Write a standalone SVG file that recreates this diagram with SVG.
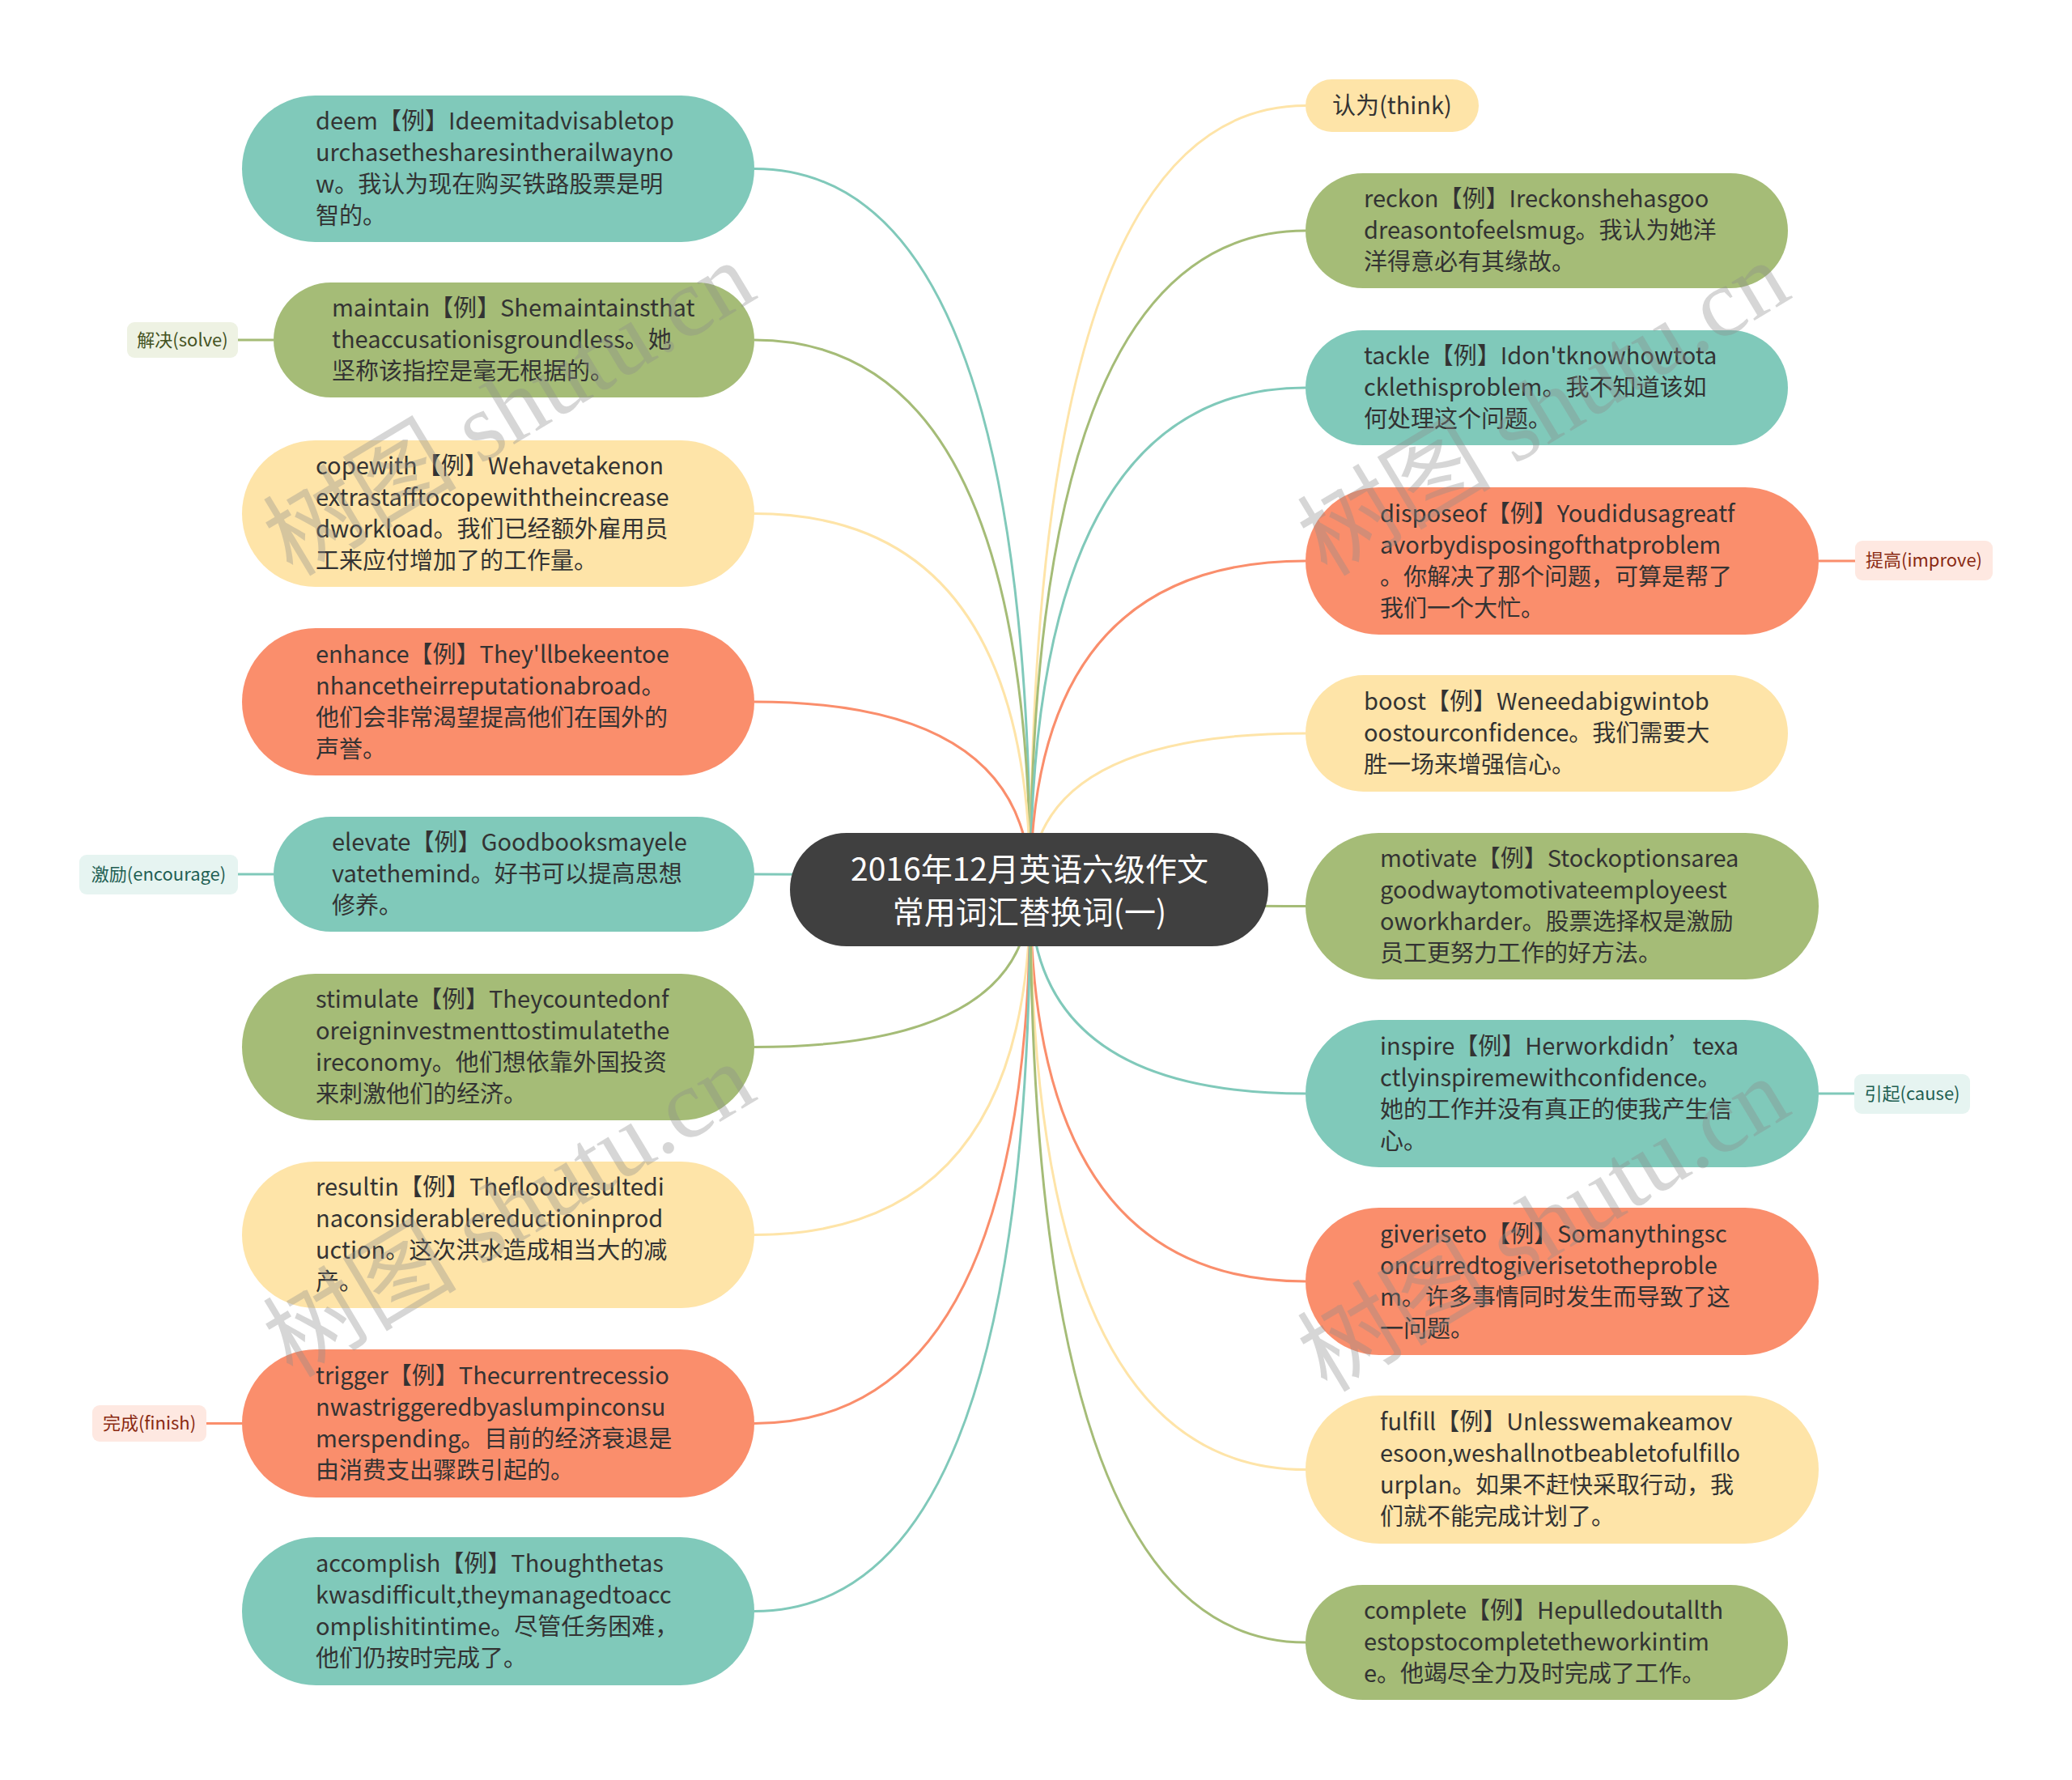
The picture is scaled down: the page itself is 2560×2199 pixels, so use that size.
<svg xmlns="http://www.w3.org/2000/svg" width="2560" height="2199" viewBox="0 0 2560 2199">
<style>
.t{font-family:"Noto Sans CJK SC","Noto Sans",sans-serif;font-size:29px;fill:#333333}
.ct{font-family:"Noto Sans CJK SC","Noto Sans",sans-serif;font-size:39px;fill:#ffffff;text-anchor:middle}
.lb{font-family:"Noto Sans CJK SC","Noto Sans",sans-serif;font-size:22px;text-anchor:middle}
.teal{fill:#80C9BA}.green{fill:#A5BC77}.yellow{fill:#FEE4A8}.orange{fill:#FA8E6C}
.c{fill:none;stroke-width:3}
.cteal{stroke:#80C9BA}.cgreen{stroke:#A5BC77}.cyellow{stroke:#FEE4A8}.corange{stroke:#FA8E6C}
.wm{font-family:"Liberation Serif","Noto Sans CJK SC",serif;font-size:120px;fill:#8c8c8c;opacity:0.35;text-anchor:middle}
</style>
<g id="connectors">
<path class="c cteal" d="M932 208.5 Q1273 208.5 1273 1099"/>
<path class="c cgreen" d="M932 420 Q1273 420 1273 1099"/>
<path class="c cyellow" d="M932 634.5 Q1273 634.5 1273 1099"/>
<path class="c corange" d="M932 867 Q1273 867 1273 1099"/>
<path class="c cteal" d="M932 1080 Q1273 1080 1273 1099"/>
<path class="c cgreen" d="M932 1293.5 Q1273 1293.5 1273 1099"/>
<path class="c cyellow" d="M932 1525.5 Q1273 1525.5 1273 1099"/>
<path class="c corange" d="M932 1758.5 Q1273 1758.5 1273 1099"/>
<path class="c cteal" d="M932 1990.5 Q1273 1990.5 1273 1099"/>
<path class="c cyellow" d="M1613 130.5 Q1273 130.5 1273 1099"/>
<path class="c cgreen" d="M1613 285 Q1273 285 1273 1099"/>
<path class="c cteal" d="M1613 479 Q1273 479 1273 1099"/>
<path class="c corange" d="M1613 693 Q1273 693 1273 1099"/>
<path class="c cyellow" d="M1613 906 Q1273 906 1273 1099"/>
<path class="c cgreen" d="M1613 1119.5 Q1273 1119.5 1273 1099"/>
<path class="c cteal" d="M1613 1351 Q1273 1351 1273 1099"/>
<path class="c corange" d="M1613 1583 Q1273 1583 1273 1099"/>
<path class="c cyellow" d="M1613 1815.5 Q1273 1815.5 1273 1099"/>
<path class="c cgreen" d="M1613 2029 Q1273 2029 1273 1099"/>
<path class="c cgreen" d="M294 420 L338 420"/>
<path class="c cteal" d="M294 1080 L338 1080"/>
<path class="c corange" d="M255 1758.5 L299 1758.5"/>
<path class="c corange" d="M2247 693 L2292 693"/>
<path class="c cteal" d="M2247 1351 L2291 1351"/>
</g>

<g id="center">
<rect x="976" y="1029" width="591" height="140" rx="70" fill="#404040"/>
<text class="ct"><tspan x="1272" y="1088">2016年12月英语六级作文</tspan><tspan x="1272" y="1141">常用词汇替换词(一)</tspan></text>
</g>

<g id="n-deem">
<rect class="teal" x="299" y="118" width="633" height="181" rx="90.5"/>
<text class="t"><tspan x="390" y="160">deem【例】Ideemitadvisabletop</tspan><tspan x="390" y="199">urchasethesharesintherailwayno</tspan><tspan x="390" y="238">w。我认为现在购买铁路股票是明</tspan><tspan x="390" y="277">智的。</tspan></text>
</g>
<g id="n-maintain">
<rect class="green" x="338" y="349" width="594" height="142" rx="71"/>
<text class="t"><tspan x="410" y="391">maintain【例】Shemaintainsthat</tspan><tspan x="410" y="430">theaccusationisgroundless。她</tspan><tspan x="410" y="469">坚称该指控是毫无根据的。</tspan></text>
</g>
<g id="l-solve">
<rect x="157" y="398" width="137" height="44" rx="9" fill="#EEF2E3"/>
<text class="lb" x="225.5" y="428" fill="#44521F">解决(solve)</text>
</g>
<g id="n-copewith">
<rect class="yellow" x="299" y="544" width="633" height="181" rx="90.5"/>
<text class="t"><tspan x="390" y="586">copewith【例】Wehavetakenon</tspan><tspan x="390" y="625">extrastafftocopewiththeincrease</tspan><tspan x="390" y="664">dworkload。我们已经额外雇用员</tspan><tspan x="390" y="703">工来应付增加了的工作量。</tspan></text>
</g>
<g id="n-enhance">
<rect class="orange" x="299" y="776" width="633" height="182" rx="91"/>
<text class="t"><tspan x="390" y="818.5">enhance【例】They'llbekeentoe</tspan><tspan x="390" y="857.5">nhancetheirreputationabroad。</tspan><tspan x="390" y="896.5">他们会非常渴望提高他们在国外的</tspan><tspan x="390" y="935.5">声誉。</tspan></text>
</g>
<g id="n-elevate">
<rect class="teal" x="338" y="1009" width="594" height="142" rx="71"/>
<text class="t"><tspan x="410" y="1051">elevate【例】Goodbooksmayele</tspan><tspan x="410" y="1090">vatethemind。好书可以提高思想</tspan><tspan x="410" y="1129">修养。</tspan></text>
</g>
<g id="l-encourage">
<rect x="98" y="1056" width="196" height="49" rx="9" fill="#E6F4F1"/>
<text class="lb" x="196" y="1088" fill="#1F5F53">激励(encourage)</text>
</g>
<g id="n-stimulate">
<rect class="green" x="299" y="1203" width="633" height="181" rx="90.5"/>
<text class="t"><tspan x="390" y="1245">stimulate【例】Theycountedonf</tspan><tspan x="390" y="1284">oreigninvestmenttostimulatethe</tspan><tspan x="390" y="1323">ireconomy。他们想依靠外国投资</tspan><tspan x="390" y="1362">来刺激他们的经济。</tspan></text>
</g>
<g id="n-resultin">
<rect class="yellow" x="299" y="1435" width="633" height="181" rx="90.5"/>
<text class="t"><tspan x="390" y="1477">resultin【例】Thefloodresultedi</tspan><tspan x="390" y="1516">naconsiderablereductioninprod</tspan><tspan x="390" y="1555">uction。这次洪水造成相当大的减</tspan><tspan x="390" y="1594">产。</tspan></text>
</g>
<g id="n-trigger">
<rect class="orange" x="299" y="1667" width="633" height="183" rx="91.5"/>
<text class="t"><tspan x="390" y="1710">trigger【例】Thecurrentrecessio</tspan><tspan x="390" y="1749">nwastriggeredbyaslumpinconsu</tspan><tspan x="390" y="1788">merspending。目前的经济衰退是</tspan><tspan x="390" y="1827">由消费支出骤跌引起的。</tspan></text>
</g>
<g id="l-finish">
<rect x="114" y="1736" width="141" height="45" rx="9" fill="#FEE8E1"/>
<text class="lb" x="184.5" y="1766" fill="#8A2A12">完成(finish)</text>
</g>
<g id="n-accomplish">
<rect class="teal" x="299" y="1899" width="633" height="183" rx="91.5"/>
<text class="t"><tspan x="390" y="1942">accomplish【例】Thoughthetas</tspan><tspan x="390" y="1981">kwasdifficult,theymanagedtoacc</tspan><tspan x="390" y="2020">omplishitintime。尽管任务困难，</tspan><tspan x="390" y="2059">他们仍按时完成了。</tspan></text>
</g>

<g id="n-think">
<rect class="yellow" x="1613" y="98" width="214" height="65" rx="32.5"/>
<text class="t" x="1646" y="141">认为(think)</text>
</g>
<g id="n-reckon">
<rect class="green" x="1613" y="214" width="596" height="142" rx="71"/>
<text class="t"><tspan x="1685" y="256">reckon【例】Ireckonshehasgoo</tspan><tspan x="1685" y="295">dreasontofeelsmug。我认为她洋</tspan><tspan x="1685" y="334">洋得意必有其缘故。</tspan></text>
</g>
<g id="n-tackle">
<rect class="teal" x="1613" y="408" width="596" height="142" rx="71"/>
<text class="t"><tspan x="1685" y="450">tackle【例】Idon'tknowhowtota</tspan><tspan x="1685" y="489">cklethisproblem。我不知道该如</tspan><tspan x="1685" y="528">何处理这个问题。</tspan></text>
</g>
<g id="n-disposeof">
<rect class="orange" x="1613" y="602" width="634" height="182" rx="91"/>
<text class="t"><tspan x="1705" y="644.5">disposeof【例】Youdidusagreatf</tspan><tspan x="1705" y="683.5">avorbydisposingofthatproblem</tspan><tspan x="1705" y="722.5">。你解决了那个问题，可算是帮了</tspan><tspan x="1705" y="761.5">我们一个大忙。</tspan></text>
</g>
<g id="l-improve">
<rect x="2292" y="668" width="170" height="49" rx="9" fill="#FEE8E1"/>
<text class="lb" x="2377" y="700" fill="#8A2A12">提高(improve)</text>
</g>
<g id="n-boost">
<rect class="yellow" x="1613" y="834" width="596" height="144" rx="72"/>
<text class="t"><tspan x="1685" y="877">boost【例】Weneedabigwintob</tspan><tspan x="1685" y="916">oostourconfidence。我们需要大</tspan><tspan x="1685" y="955">胜一场来增强信心。</tspan></text>
</g>
<g id="n-motivate">
<rect class="green" x="1613" y="1029" width="634" height="181" rx="90.5"/>
<text class="t"><tspan x="1705" y="1071">motivate【例】Stockoptionsarea</tspan><tspan x="1705" y="1110">goodwaytomotivateemployeest</tspan><tspan x="1705" y="1149">oworkharder。股票选择权是激励</tspan><tspan x="1705" y="1188">员工更努力工作的好方法。</tspan></text>
</g>
<g id="n-inspire">
<rect class="teal" x="1613" y="1260" width="634" height="182" rx="91"/>
<text class="t"><tspan x="1705" y="1302.5">inspire【例】Herworkdidn’texa</tspan><tspan x="1705" y="1341.5">ctlyinspiremewithconfidence。</tspan><tspan x="1705" y="1380.5">她的工作并没有真正的使我产生信</tspan><tspan x="1705" y="1419.5">心。</tspan></text>
</g>
<g id="l-cause">
<rect x="2291" y="1327" width="143" height="49" rx="9" fill="#E6F4F1"/>
<text class="lb" x="2362.5" y="1359" fill="#1F5F53">引起(cause)</text>
</g>
<g id="n-giveriseto">
<rect class="orange" x="1613" y="1492" width="634" height="182" rx="91"/>
<text class="t"><tspan x="1705" y="1534.5">giveriseto【例】Somanythingsc</tspan><tspan x="1705" y="1573.5">oncurredtogiverisetotheproble</tspan><tspan x="1705" y="1612.5">m。许多事情同时发生而导致了这</tspan><tspan x="1705" y="1651.5">一问题。</tspan></text>
</g>
<g id="n-fulfill">
<rect class="yellow" x="1613" y="1724" width="634" height="183" rx="91.5"/>
<text class="t"><tspan x="1705" y="1767">fulfill【例】Unlesswemakeamov</tspan><tspan x="1705" y="1806">esoon,weshallnotbeabletofulfillo</tspan><tspan x="1705" y="1845">urplan。如果不赶快采取行动，我</tspan><tspan x="1705" y="1884">们就不能完成计划了。</tspan></text>
</g>
<g id="n-complete">
<rect class="green" x="1613" y="1958" width="596" height="142" rx="71"/>
<text class="t"><tspan x="1685" y="2000">complete【例】Hepulledoutallth</tspan><tspan x="1685" y="2039">estopstocompletetheworkintim</tspan><tspan x="1685" y="2078">e。他竭尽全力及时完成了工作。</tspan></text>
</g>

<g id="watermarks">
<text class="wm" transform="translate(650 540) rotate(-31)">树图 shutu.cn</text>
<text class="wm" transform="translate(650 1530) rotate(-31)">树图 shutu.cn</text>
<text class="wm" transform="translate(1928 540) rotate(-31)">树图 shutu.cn</text>
<text class="wm" transform="translate(1928 1548) rotate(-31)">树图 shutu.cn</text>
</g>
</svg>
